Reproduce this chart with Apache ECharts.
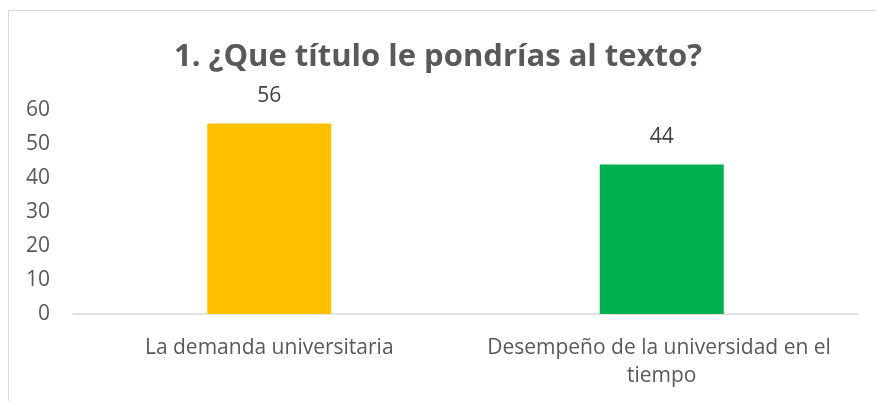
<!DOCTYPE html>
<html>
<head>
<meta charset="utf-8">
<script src="https://cdn.jsdelivr.net/npm/echarts@6/dist/echarts.min.js"></script>
<style>
html,body{margin:0;padding:0;background:#fff;}
#chart{width:876px;height:401px;}
</style>
</head>
<body>
<div id="chart"></div>
<script>
const titleText = '1. ¿Que título le pondrías al texto?';
const categories = ['La demanda universitaria', 'Desempeño de la universidad en el tiempo'];
const values = [56, 44];
const barColors = ['#FFC000', '#00B050'];
const yTicks = [0, 10, 20, 30, 40, 50, 60];

const FONT = 'Open Sans';
const chart = echarts.init(document.getElementById('chart'));
chart.setOption({
  animation: false,
  backgroundColor: '#fff',
  graphic: [{
    type: 'rect',
    shape: {x: 8.5, y: 10.5, width: 900, height: 420},
    style: {fill: 'none', stroke: '#d9d9d9', lineWidth: 1},
    silent: true
  }],
  title: {
    text: titleText,
    left: 'center',
    top: 37,
    padding: [5, 0, 5, 30],
    textStyle: {fontFamily: FONT, fontWeight: 'bold', fontSize: 31, color: '#595959'}
  },
  grid: {left: 73, right: 18, top: 110, bottom: 87},
  xAxis: {
    type: 'category',
    data: categories,
    axisLine: {show: true, lineStyle: {color: '#d9d9d9', width: 1.5}},
    axisTick: {show: false},
    axisLabel: {
      fontFamily: FONT, fontSize: 21, color: '#595959', margin: 20,
      width: 380, overflow: 'break', lineHeight: 28, interval: 0
    }
  },
  yAxis: {
    type: 'value',
    min: yTicks[0],
    max: yTicks[yTicks.length - 1],
    interval: 10,
    splitLine: {show: false},
    axisLine: {show: false},
    axisTick: {show: false},
    axisLabel: {fontFamily: FONT, fontSize: 21, color: '#595959', margin: 23}
  },
  series: [{
    type: 'bar',
    barWidth: '31.6%',
    data: values.map((v, i) => ({value: v, itemStyle: {color: barColors[i]}})),
    label: {
      show: true, position: 'top', distance: 17,
      fontFamily: FONT, fontSize: 21, color: '#404040'
    }
  }]
});
</script>
</body>
</html>
